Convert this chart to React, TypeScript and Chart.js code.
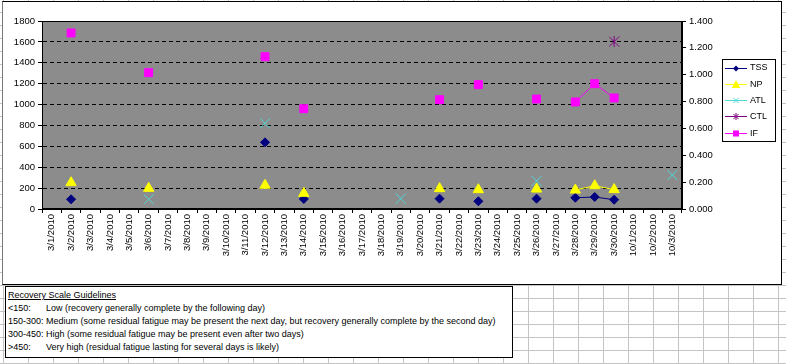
import React, { useEffect, useRef } from 'react';
import { Chart, registerables } from 'chart.js';

Chart.register(...registerables);

const dates = [
  '3/1/2010', '3/2/2010', '3/3/2010', '3/4/2010', '3/5/2010', '3/6/2010', '3/7/2010', '3/8/2010',
  '3/9/2010', '3/10/2010', '3/11/2010', '3/12/2010', '3/13/2010', '3/14/2010', '3/15/2010', '3/16/2010',
  '3/17/2010', '3/18/2010', '3/19/2010', '3/20/2010', '3/21/2010', '3/22/2010', '3/23/2010', '3/24/2010',
  '3/25/2010', '3/26/2010', '3/27/2010', '3/28/2010', '3/29/2010', '3/30/2010', '10/1/2010', '10/2/2010',
  '10/3/2010',
];

const tss = [null, 93, null, null, null, null, null, null, null, null, null, 638, null, 96, null, null, null,
  null, null, null, 99, null, 74, null, null, 99, null, 108, 115, 89, null, null, null];
const np = [null, 252, null, null, null, 198, null, null, null, null, null, 227, null, 150, null, null, null,
  null, null, null, 195, null, 185, null, null, 191, null, 182, 223, 186, null, null, null];
const atl = [null, null, null, null, null, 93, null, null, null, null, null, 820, null, null, null, null, null,
  null, 99, null, null, null, null, null, null, 268, null, null, null, null, null, null, 325];
const ctl = [null, null, null, null, null, null, null, null, null, null, null, null, null, null, null, null, null,
  null, null, null, null, null, null, null, null, null, null, null, null, 1602, null, null, null];
const ifv = [null, 1.311, null, null, null, 1.015, null, null, null, null, null, 1.134, null, 0.747, null, null, null,
  null, null, null, 0.814, null, 0.926, null, null, 0.819, null, 0.797, 0.933, 0.827, null, null, null];

const seriesNames = ['TSS', 'NP', 'ATL', 'CTL', 'IF'];
const seriesColors = ['#000080', '#FFFF00', '#4fd8d8', '#800080', '#FF00FF'];
const seriesMarkers = ['diamond', 'triangle', 'x', 'star', 'square'];

const leftMax = 1800;
const leftStep = 200;
const rightMax = 1.4;
const rightStep = 0.2;

const guideTitle = 'Recovery Scale Guidelines';
const guideRows: [string, string, boolean][] = [
  ['<150:', 'Low (recovery generally complete by the following day)', true],
  ['150-300:', 'Medium (some residual fatigue may be present the next day, but recovery generally complete by the second day)', true],
  ['300-450:', 'High (some residual fatigue may be present even after two days)', false],
  ['>450:', 'Very high (residual fatigue lasting for several days is likely)', true],
];

const axisFont = { family: "'Liberation Sans Narrow', 'Liberation Sans', Arial, sans-serif", size: 9.5 };
const legendFontStr = "9px 'Liberation Sans', Arial, sans-serif";

function drawMarker(ctx: CanvasRenderingContext2D, kind: string, x: number, y: number, r: number, color: string) {
  ctx.save();
  ctx.fillStyle = color;
  ctx.strokeStyle = color;
  ctx.lineWidth = 1;
  ctx.beginPath();
  if (kind === 'diamond') {
    ctx.moveTo(x, y - r); ctx.lineTo(x + r, y); ctx.lineTo(x, y + r); ctx.lineTo(x - r, y); ctx.closePath(); ctx.fill();
  } else if (kind === 'triangle') {
    ctx.moveTo(x, y - r); ctx.lineTo(x + r * 0.95, y + r * 0.75); ctx.lineTo(x - r * 0.95, y + r * 0.75); ctx.closePath(); ctx.fill();
  } else if (kind === 'x') {
    ctx.moveTo(x - r, y - r); ctx.lineTo(x + r, y + r); ctx.moveTo(x + r, y - r); ctx.lineTo(x - r, y + r); ctx.stroke();
  } else if (kind === 'star') {
    ctx.moveTo(x - r, y - r); ctx.lineTo(x + r, y + r); ctx.moveTo(x + r, y - r); ctx.lineTo(x - r, y + r);
    ctx.moveTo(x, y - r - 1); ctx.lineTo(x, y + r + 1); ctx.stroke();
  } else {
    ctx.fillRect(x - r, y - r, 2 * r, 2 * r);
  }
  ctx.restore();
}

const excelPlugin = {
  id: 'excelLook',
  beforeDraw(chart: any) {
    const { ctx, chartArea: a } = chart;
    ctx.save();
    ctx.fillStyle = '#8c8c8c';
    ctx.fillRect(a.left, a.top, a.right - a.left, a.bottom - a.top);
    ctx.restore();
  },
  beforeDatasetsDraw(chart: any) {
    const { ctx, chartArea: a } = chart;
    ctx.save();
    ctx.strokeStyle = '#000';
    ctx.lineWidth = 1;
    ctx.strokeRect(Math.round(a.left) + 0.5, Math.round(a.top) + 0.5, Math.round(a.right - a.left) - 1, Math.round(a.bottom - a.top) - 1);
    ctx.restore();
  },
  afterDraw(chart: any) {
    const ctx: CanvasRenderingContext2D = chart.ctx;
    const bx = 719, by = 57, bw = 54, bh = 83;
    ctx.save();
    ctx.fillStyle = '#fff';
    ctx.fillRect(bx, by, bw, bh);
    ctx.strokeStyle = '#000';
    ctx.lineWidth = 1;
    ctx.strokeRect(bx + 0.5, by + 0.5, bw - 1, bh - 1);
    const sizes = [3, 4.5, 2.5, 2.5, 3];
    chart.data.datasets.forEach((ds: any, i: number) => {
      const y = by + 8.5 + i * 16.3;
      ctx.strokeStyle = seriesColors[i];
      ctx.lineWidth = 1;
      ctx.beginPath();
      ctx.moveTo(bx + 3, Math.round(y) + 0.5);
      ctx.lineTo(bx + 25, Math.round(y) + 0.5);
      ctx.stroke();
      drawMarker(ctx, seriesMarkers[i], bx + 14, Math.round(y) + 0.5, sizes[i], seriesColors[i]);
      ctx.fillStyle = '#000';
      ctx.font = legendFontStr;
      ctx.textBaseline = 'middle';
      ctx.textAlign = 'left';
      ctx.fillText(ds.label, bx + 28, y + 0.5);
    });
    ctx.restore();
  },
};

export default function App() {
  const ref = useRef<HTMLCanvasElement>(null);

  useEffect(() => {
    const star = document.createElement('canvas');
    star.width = 11;
    star.height = 11;
    const sc = star.getContext('2d')!;
    sc.strokeStyle = '#800080';
    sc.lineWidth = 1;
    sc.beginPath();
    sc.moveTo(0.5, 0.5); sc.lineTo(10.5, 10.5);
    sc.moveTo(10.5, 0.5); sc.lineTo(0.5, 10.5);
    sc.moveTo(5.5, 0); sc.lineTo(5.5, 11);
    sc.stroke();

    const common = { borderWidth: 1, pointBorderWidth: 1, spanGaps: false, showLine: true };
    const chart = new Chart(ref.current!, {
      type: 'line',
      data: {
        labels: dates,
        datasets: [
          { ...common, label: seriesNames[0], data: tss, yAxisID: 'y', borderColor: seriesColors[0], backgroundColor: seriesColors[0], pointStyle: 'rectRot', pointRadius: 4.5, order: 5 },
          { ...common, label: seriesNames[1], data: np, yAxisID: 'y', borderColor: seriesColors[1], backgroundColor: seriesColors[1], pointStyle: 'triangle', pointRadius: 6, order: 4 },
          { ...common, label: seriesNames[2], data: atl, yAxisID: 'y', borderColor: seriesColors[2], backgroundColor: seriesColors[2], pointStyle: 'crossRot', pointRadius: 7, order: 3 },
          { ...common, label: seriesNames[3], data: ctl, yAxisID: 'y', borderColor: seriesColors[3], backgroundColor: seriesColors[3], pointStyle: star as any, pointRadius: 6, order: 2 },
          { ...common, label: seriesNames[4], data: ifv, yAxisID: 'y1', borderColor: seriesColors[4], backgroundColor: seriesColors[4], pointStyle: 'rect', pointRadius: 5.6, order: 1 },
        ] as any,
      },
      options: {
        animation: false,
        responsive: false,
        devicePixelRatio: 1,
        events: [],
        layout: { padding: { top: 19, left: 0, right: 0, bottom: 0 } },
        plugins: { legend: { display: false }, tooltip: { enabled: false } },
        scales: {
          x: {
            type: 'category',
            offset: true,
            grid: { display: true, offset: true, drawOnChartArea: false, drawTicks: true, tickLength: 4, color: '#000', tickColor: '#000' },
            border: { display: true, color: '#000' },
            ticks: { autoSkip: false, maxRotation: 90, minRotation: 90, padding: 1, color: '#000', font: axisFont },
            afterFit: (s: any) => { s.height = 75; },
          },
          y: {
            position: 'left',
            min: 0,
            max: leftMax,
            grid: { color: '#000', lineWidth: 1, drawTicks: true, tickLength: 4, tickColor: '#000' },
            border: { display: true, color: '#000', dash: [4, 3] },
            ticks: { stepSize: leftStep, padding: 3, color: '#000', font: axisFont, callback: (v: any) => String(v) },
            afterFit: (s: any) => { s.width = 39; },
          },
          y1: {
            position: 'right',
            min: 0,
            max: rightMax,
            grid: { drawOnChartArea: false, drawTicks: true, tickLength: 4, color: '#000', tickColor: '#000' },
            border: { display: true, color: '#000' },
            ticks: { stepSize: rightStep, padding: 3, color: '#000', font: axisFont, callback: (v: any) => Number(v).toFixed(3) },
            afterFit: (s: any) => { s.width = 99; },
          },
        },
      } as any,
      plugins: [excelPlugin],
    });
    return () => chart.destroy();
  }, []);

  return (
    <div
      style={{
        position: 'fixed', left: 0, top: 0, width: 786, height: 364, overflow: 'hidden', background: '#fff',
        backgroundImage: 'linear-gradient(to right, #c4c4c4 1px, transparent 1px), linear-gradient(to bottom, #c4c4c4 1px, transparent 1px)',
        backgroundSize: '25px 13px',
        backgroundPosition: '3px 12px',
      }}
    >
      <div
        style={{
          position: 'absolute', left: 2, top: 1, width: 778, height: 282, background: '#fff',
          borderStyle: 'solid', borderWidth: 1, borderColor: '#000', borderLeftColor: '#777',
        }}
      >
        <canvas ref={ref} width={778} height={282} style={{ display: 'block', width: 778, height: 282 }} />
      </div>
      <div
        style={{
          position: 'absolute', left: 5, top: 286, width: 504, height: 68, background: '#fff',
          border: '1px solid #000', padding: '2px 0 0 2px',
          fontFamily: "'Liberation Sans', Arial, sans-serif", fontSize: 9, lineHeight: '12.9px', color: '#000',
          whiteSpace: 'nowrap',
        }}
      >
        <div style={{ textDecoration: 'underline' }}>{guideTitle}</div>
        {guideRows.map(([k, d, pad]) => (
          <div key={k}>
            <span style={{ display: 'inline-block', minWidth: pad ? 38 : 0 }}>{k}</span>
            {pad ? '' : ' '}
            {d}
          </div>
        ))}
      </div>
    </div>
  );
}
